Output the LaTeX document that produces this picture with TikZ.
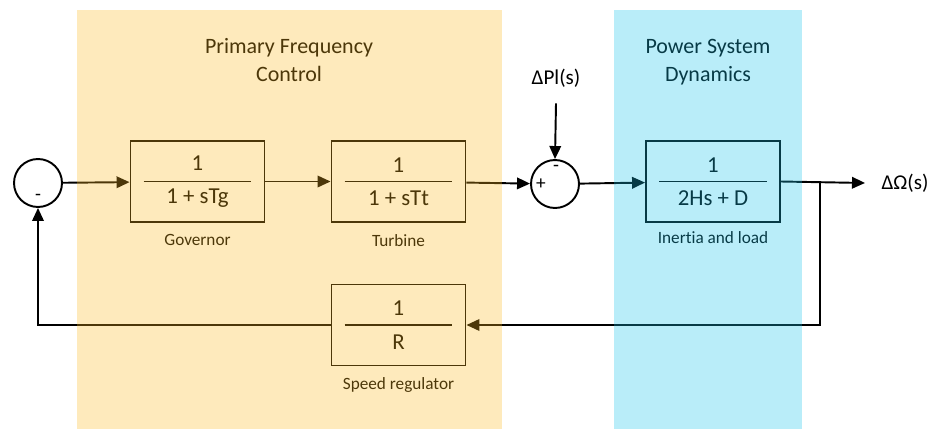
\documentclass[tikz,border=0pt]{standalone}
\usepackage{fontspec}
\setmainfont[Ligatures=CommonOff]{Carlito}
\usetikzlibrary{arrows.meta,positioning,calc}
\definecolor{pfcband}{RGB}{252,185,32}
\definecolor{psdband}{RGB}{24,195,235}
\tikzset{
  lfcblock/.style={draw, line width=1.1pt, minimum width=2.68cm, minimum height=1.62cm, align=center, font=\fontsize{13}{15}\selectfont,
    path picture={\draw[line width=1.1pt] ([xshift=0.26cm]path picture bounding box.west) -- ([xshift=-0.26cm]path picture bounding box.east);}},
  lfcsum/.style={draw, circle, line width=1.1pt, minimum size=0.96cm, inner sep=0pt},
  lfcsign/.style={font=\fontsize{11}{13}\selectfont, inner sep=0pt},
  lfccaption/.style={font=\fontsize{9.8}{11}\selectfont},
  lfctitle/.style={align=center, font=\fontsize{12.5}{16}\selectfont},
  lfcsignal/.style={font=\fontsize{12}{14}\selectfont},
  lfcarrow/.style={-{Triangle[length=2.6mm,width=2.3mm]}, line width=1.1pt},
  lfcband/.style={fill opacity=0.3}
}

\begin{document}
\begin{tikzpicture}[x=0.02cm, y=-0.02cm]
\useasboundingbox (0,0) rectangle (935,429);

\node[lfctitle] (pfctitle) at (289,60) {Primary Frequency\\Control};
\node[lfctitle] (psdtitle) at (708,62) {Power System\\Dynamics};

% forward path
\node[lfcsum] (sumfb) at (38,183) {};
\node[lfcsign] (fbminus) at (38,197) {-};
\node[lfcblock] (gov) at (197.5,181.5) {1\\[4pt]1 + sTg};
\node[lfccaption, below=0.1cm of gov] (govcap) {Governor};
\node[lfcblock] (turb) at (398.5,181.5) {1\\[4pt]1 + sTt};
\node[lfccaption, below=0.1cm of turb] (turbcap) {Turbine};
\node[lfcsum] (sumload) at (555,184) {};
\node[lfcsign] (ldplus) at (541,184) {+};
\node[lfcsign] (ldminus) at (556,168) {-};
\node[lfcsignal] (dpl) at (556,78) {ΔPl(s)};
\node[lfcblock] (inertia) at (713,181.5) {1\\[4pt]2Hs + D};
\node[lfccaption, below=0.05cm of inertia] (inertiacap) {Inertia and load};
\coordinate (branch) at (820,183);
\coordinate (out) at (865,183);
\node[lfcsignal] (domega) at (905,183) {ΔΩ(s)};

% feedback path
\node[lfcblock] (reg) at (398.5,325) {1\\[4pt]R};
\node[lfccaption, below=0.1cm of reg] (regcap) {Speed regulator};

\draw[lfcarrow] (sumfb) -- (gov);
\draw[lfcarrow] (gov) -- (turb);
\draw[lfcarrow] (turb) -- (sumload);
\draw[lfcarrow] ([yshift=-0.2cm]dpl.south) -- (sumload.north);
\draw[lfcarrow] (sumload) -- (inertia);
\draw[lfcarrow] (inertia.east) -- (out);
\draw[lfcarrow] (branch) |- (reg.east);
\draw[lfcarrow] (reg.west) -| (sumfb.south);

% shaded regions
\fill[pfcband, lfcband] (77,10) rectangle (502,429);
\fill[psdband, lfcband] (614,10) rectangle (802,429);
\end{tikzpicture}
\end{document}
